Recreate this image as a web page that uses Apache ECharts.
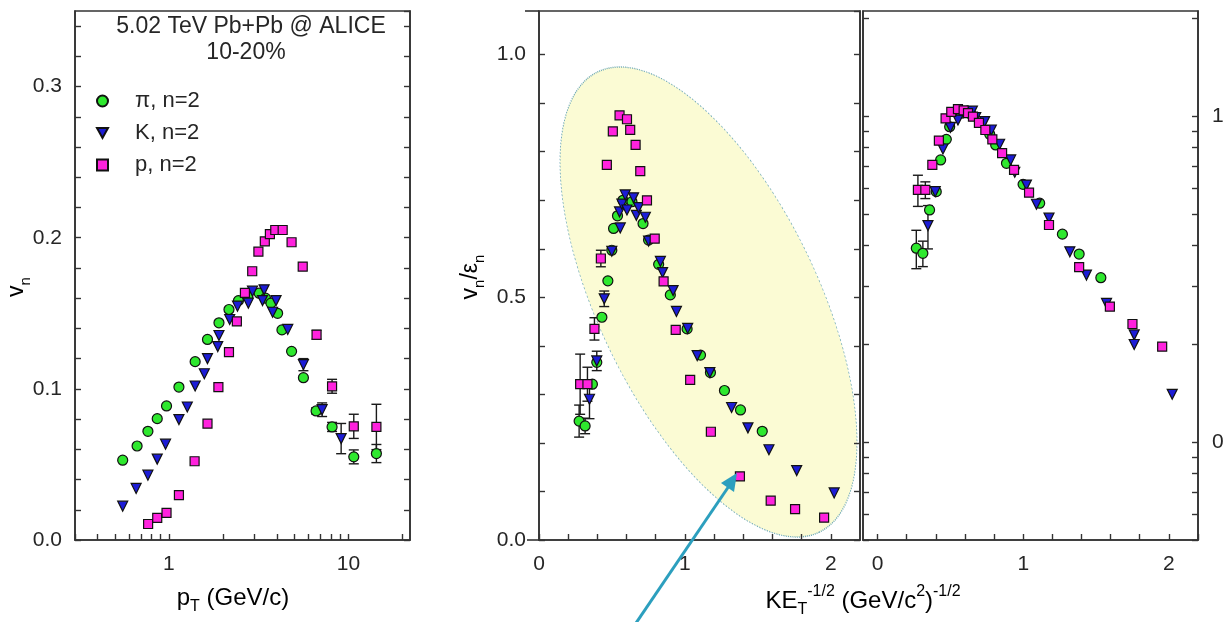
<!DOCTYPE html>
<html>
<head>
<meta charset="utf-8">
<script src="https://cdn.jsdelivr.net/npm/echarts@6/dist/echarts.min.js"></script>
<style>
html,body{margin:0;padding:0;background:#fff;}
#c{width:1224px;height:622px;}
</style>
</head>
<body>
<div id="c"></div>
<script>
// ---------- DATA ----------
// Left panel: v2 vs pT
const pT_pi  = [0.553,0.665,0.764,0.861,0.97,1.137,1.40,1.64,1.90,2.16,2.44,2.75,3.18,3.45,3.70,4.03,4.26,4.82,5.61,6.6,8.1,10.7,14.3];
const v2_pi  = [0.0528,0.0622,0.0719,0.0803,0.0887,0.1012,0.118,0.1327,0.1437,0.1525,0.1584,0.161,0.1633,0.160,0.1567,0.150,0.139,0.1248,0.1074,0.0854,0.0748,0.055,0.0572];
const e2_pi  = [0,0,0,0,0,0,0,0,0,0,0,0,0,0,0,0,0,0,0,0.002,0.003,0.0046,0.006];

const pT_K   = [0.553,0.657,0.764,0.861,0.958,1.137,1.266,1.40,1.575,1.64,1.87,1.90,2.18,2.41,2.77,2.92,3.32,3.39,3.78,3.95,4.59,5.61,7.13,9.1];
const v2_K   = [0.0224,0.0341,0.0429,0.0535,0.0634,0.0797,0.088,0.1019,0.110,0.120,0.128,0.1353,0.1459,0.1547,0.1567,0.1646,0.1584,0.1655,0.1507,0.1584,0.1393,0.116,0.0862,0.0671];
const e2_K   = [0,0,0,0,0,0,0,0,0,0,0,0,0,0,0,0,0,0,0,0,0,0.004,0.0045,0.01];

const pT_p   = [0.766,0.861,0.97,1.137,1.39,1.64,1.886,2.16,2.39,2.65,2.91,3.15,3.42,3.65,3.91,4.30,4.82,5.56,6.64,8.1,10.7,14.3];
const v2_p   = [0.0106,0.0147,0.018,0.0297,0.0521,0.077,0.1012,0.1243,0.1446,0.1635,0.1778,0.1908,0.1976,0.2024,0.2051,0.2051,0.197,0.1809,0.1358,0.1017,0.0752,0.0748];
const e2_p   = [0,0,0,0,0,0,0,0,0,0,0,0,0,0,0,0,0,0,0.003,0.0046,0.008,0.015];

// Middle panel: v2/eps2 vs KE_T^-1/2
const ke_pi  = [0.275,0.316,0.366,0.396,0.431,0.472,0.499,0.511,0.538,0.575,0.637,0.713,0.751,0.820,0.900,1.015,1.107,1.175,1.271,1.381,1.530];
const r_pi   = [0.245,0.235,0.321,0.366,0.459,0.534,0.597,0.642,0.668,0.700,0.697,0.652,0.618,0.568,0.505,0.435,0.381,0.345,0.308,0.268,0.224];
const er_pi  = [0.033,0.016,0,0,0,0,0,0,0,0,0,0,0,0,0,0,0,0,0,0,0];

const ke_K   = [0.346,0.396,0.447,0.499,0.552,0.557,0.568,0.591,0.603,0.648,0.667,0.682,0.729,0.751,0.832,0.847,0.919,0.942,1.019,1.084,1.171,1.320,1.432,1.576,1.766,2.023];
const r_K    = [0.290,0.369,0.497,0.595,0.676,0.643,0.692,0.711,0.680,0.705,0.669,0.685,0.665,0.616,0.574,0.551,0.514,0.471,0.436,0.380,0.345,0.273,0.231,0.186,0.143,0.097];
const er_K   = [0.04,0.02,0.016,0,0,0,0,0,0,0,0,0,0,0,0,0,0,0,0,0,0,0,0,0,0,0];

const ke_p   = [0.282,0.332,0.380,0.424,0.465,0.506,0.552,0.603,0.625,0.662,0.694,0.740,0.793,0.854,0.937,1.036,1.178,1.377,1.588,1.755,1.954];
const r_p    = [0.321,0.321,0.435,0.580,0.773,0.842,0.875,0.867,0.845,0.814,0.760,0.700,0.621,0.533,0.433,0.330,0.223,0.131,0.081,0.0635,0.046];
const er_p   = [0.062,0.035,0.023,0.017,0,0,0,0,0,0,0,0,0,0,0,0,0,0,0,0,0];

// Right panel (log y)
const kr_pi  = [0.266,0.311,0.357,0.403,0.433,0.472,0.495,0.575,0.644,0.770,0.811,0.885,0.999,1.113,1.269,1.384,1.533];
const s_pi   = [0.393,0.379,0.515,0.586,0.733,0.848,0.927,1.02,1.01,0.879,0.815,0.716,0.617,0.540,0.434,0.377,0.319];
const es_pi  = [0.053,0.034,0,0,0,0,0,0,0,0,0,0,0,0,0,0,0];

const kr_K   = [0.346,0.396,0.449,0.500,0.552,0.609,0.651,0.674,0.735,0.781,0.838,0.914,0.942,1.022,1.091,1.177,1.320,1.434,1.572,1.762,1.762,2.023];
const s_K    = [0.461,0.586,0.792,0.923,0.972,1.03,1.035,0.988,0.961,0.906,0.819,0.733,0.672,0.614,0.536,0.486,0.383,0.325,0.266,0.213,0.199,0.140];
const es_K   = [0.07,0,0,0,0,0,0,0,0,0,0,0,0,0,0,0,0,0,0,0,0,0];

const kr_p   = [0.277,0.328,0.376,0.421,0.467,0.506,0.552,0.591,0.621,0.655,0.696,0.740,0.788,0.855,0.937,1.040,1.177,1.384,1.595,1.750,1.954];
const s_p    = [0.593,0.593,0.708,0.840,0.984,1.03,1.05,1.04,1.02,0.995,0.953,0.906,0.848,0.769,0.683,0.582,0.463,0.344,0.260,0.230,0.196];
const es_p   = [0.065,0.035,0,0,0,0,0,0,0,0,0,0,0,0,0,0,0,0,0,0,0];

// Tick values / labels
const ptTicks   = [0.3,0.4,0.5,0.6,0.7,0.8,0.9,1,2,3,4,5,6,7,8,9,10,20];
const ptLabels  = [1,10];
const keTicksR  = [0,0.2,0.4,0.6,0.8,1,1.2,1.4,1.6,1.8,2,2.2];
const keLabelsR = [0,1,2];
const logTicks  = [0.05,0.06,0.07,0.08,0.09,0.1,0.2,0.3,0.4,0.5,0.6,0.7,0.8,0.9,1,2];
const logLabels = [0.1,1];

const names = ['\u03c0, n=2','K, n=2','p, n=2'];
const colors = ['#2ee82e','#1c1cd6','#ff22dd'];
const symbols = ['circle','triangle','rect'];
const symSizes = [10,10,9];
const symRot = [0,180,0];
const legendIcons = ['circle','path://M0,0 L10,0 L5,9 Z','rect'];

// ---------- CHART ----------
const FONT = 'Liberation Sans, Arial, sans-serif';
const TXT = '#262626';
const chart = echarts.init(document.getElementById('c'), null, {renderer:'canvas'});

function zip(xs, ys){ return xs.map((x,i)=>[x, ys[i]]); }
function zipE(xs, ys, es){ const r=[]; xs.forEach((x,i)=>{ if(es[i]>0) r.push([x, ys[i], es[i]]); }); return r; }

function errSeries(data, xi, yi){
  return {
    type:'custom', xAxisIndex:xi, yAxisIndex:yi, z:3, clip:false, silent:true,
    data:data, encode:{x:0,y:1},
    renderItem:function(params, api){
      const x=api.value(0), y=api.value(1), e=api.value(2);
      const t=api.coord([x,y+e]), b=api.coord([x,y-e]);
      const w=5;
      const st={stroke:'#1a1a1a', lineWidth:1.4};
      return {type:'group', children:[
        {type:'line', shape:{x1:t[0],y1:t[1],x2:b[0],y2:b[1]}, style:st},
        {type:'line', shape:{x1:t[0]-w,y1:t[1],x2:t[0]+w,y2:t[1]}, style:st},
        {type:'line', shape:{x1:b[0]-w,y1:b[1],x2:b[0]+w,y2:b[1]}, style:st}
      ]};
    }
  };
}
function scat(k, data, xi, yi){
  return {
    type:'scatter', name:names[k], xAxisIndex:xi, yAxisIndex:yi, z:4+k,
    data:data, symbol:symbols[k], symbolSize:symSizes[k], symbolRotate:symRot[k],
    itemStyle:{color:colors[k], borderColor:'#111', borderWidth:1.2, opacity:1},
    emphasis:{disabled:true}, animation:false
  };
}

const axisLineSt = {show:true, onZero:false, lineStyle:{color:'#333', width:1.6}};
const tickSt = {show:true, inside:true, length:6, lineStyle:{color:'#333', width:1.4}};
const lblSt = {color:TXT, fontSize:21, fontFamily:FONT};

function isMult(v, m){ const q=v/m; return Math.abs(q-Math.round(q))<1e-6; }

const series = [];
const sets = [
  [[pT_pi,v2_pi,e2_pi],[pT_K,v2_K,e2_K],[pT_p,v2_p,e2_p], 0, 0],
  [[ke_pi,r_pi,er_pi],[ke_K,r_K,er_K],[ke_p,r_p,er_p], 1, 2],
  [[kr_pi,s_pi,es_pi],[kr_K,s_K,es_K],[kr_p,s_p,es_p], 2, 4]
];
sets.forEach(s=>{
  const xi=s[3], yi=s[4];
  for(let k=0;k<3;k++){ const e=zipE(s[k][0],s[k][1],s[k][2]); if(e.length) series.push(errSeries(e,xi,yi)); }
  for(let k=0;k<3;k++) series.push(scat(k, zip(s[k][0],s[k][1]), xi, yi));
});

// ellipse geometry (annotation)
const ell = {cx:708.5, cy:302, a:255.4, b:109.7, ang:-64.3*Math.PI/180};

const richBig = {
  m:{fontSize:24, fontFamily:FONT, color:TXT, lineHeight:34},
  s:{fontSize:16, fontFamily:FONT, color:TXT, verticalAlign:'bottom', lineHeight:34},
  p:{fontSize:16, fontFamily:FONT, color:TXT, verticalAlign:'top', lineHeight:34}
};
const richMid = {
  m:{fontSize:23, fontFamily:FONT, color:TXT, lineHeight:32},
  s:{fontSize:15, fontFamily:FONT, color:TXT, verticalAlign:'bottom', lineHeight:32}
};

const gridBase = {top:11, height:529, show:true, borderColor:'#333', borderWidth:1.6, backgroundColor:'transparent', containLabel:false, outerBoundsMode:'none'};

const option = {
  backgroundColor:'#fff',
  animation:false,
  grid:[
    Object.assign({left:75, width:335}, gridBase),
    Object.assign({left:539, width:321}, gridBase),
    Object.assign({left:863, width:335}, gridBase)
  ],
  xAxis:[
    {gridIndex:0, type:'log', logBase:10, min:0.3, max:22, axisLine:axisLineSt,
     axisTick:Object.assign({}, tickSt, {customValues:ptTicks}),
     axisLabel:Object.assign({}, lblSt, {margin:14, customValues:ptLabels, formatter:v=>String(Math.round(v))}),
     splitLine:{show:false}},
    {gridIndex:1, type:'value', min:0, max:2.2, interval:0.2, axisLine:axisLineSt, axisTick:tickSt,
     axisLabel:Object.assign({}, lblSt, {margin:14, interval:0, showMaxLabel:false, formatter:v=>isMult(v,1)?String(Math.round(v)):''}),
     splitLine:{show:false}},
    {gridIndex:2, type:'value', min:-0.1, max:2.2, axisLine:axisLineSt,
     axisTick:Object.assign({}, tickSt, {customValues:keTicksR}),
     axisLabel:Object.assign({}, lblSt, {margin:14, customValues:keLabelsR, formatter:v=>String(Math.round(v))}),
     splitLine:{show:false}}
  ],
  yAxis:[
    {gridIndex:0, type:'value', position:'left', min:0, max:0.35, interval:0.02, axisLine:axisLineSt, axisTick:tickSt,
     axisLabel:Object.assign({}, lblSt, {margin:13, interval:0, showMaxLabel:false, formatter:v=>isMult(v,0.1)?v.toFixed(1):''}),
     splitLine:{show:false}},
    {gridIndex:0, type:'value', position:'right', min:0, max:0.35, interval:0.02, axisLine:axisLineSt, axisTick:tickSt,
     axisLabel:{show:false}, splitLine:{show:false}},
    {gridIndex:1, type:'value', position:'left', min:0, max:1.09, interval:0.1, axisLine:axisLineSt, axisTick:tickSt,
     axisLabel:Object.assign({}, lblSt, {margin:13, interval:0, showMaxLabel:false, formatter:v=>isMult(v,0.5)?v.toFixed(1):''}),
     splitLine:{show:false}},
    {gridIndex:1, type:'value', position:'right', min:0, max:1.09, interval:0.1, axisLine:axisLineSt, axisTick:tickSt,
     axisLabel:{show:false}, splitLine:{show:false}},
    {gridIndex:2, type:'log', logBase:10, position:'right', min:0.05, max:2.1, axisLine:axisLineSt,
     axisTick:Object.assign({}, tickSt, {customValues:logTicks}),
     axisLabel:Object.assign({}, lblSt, {margin:14, customValues:logLabels, formatter:v=>(Math.abs(v-1)<1e-6?'1':'0.1')}),
     splitLine:{show:false}},
    {gridIndex:2, type:'log', logBase:10, position:'left', min:0.05, max:2.1, axisLine:axisLineSt,
     axisTick:Object.assign({}, tickSt, {customValues:logTicks}),
     axisLabel:{show:false}, splitLine:{show:false}}
  ],
  legend:{
    data:names.map((n,i)=>({name:n, icon:legendIcons[i]})), orient:'vertical', left:91, top:85, itemGap:10, itemWidth:11, itemHeight:11,
    selectedMode:false,
    textStyle:{color:TXT, fontSize:22, fontFamily:FONT, lineHeight:16, padding:[0,0,0,22]}
  },
  graphic:[
    {type:'circle', z:-10, zlevel:0, silent:true,
     x:ell.cx, y:ell.cy, scaleX:ell.a/100, scaleY:ell.b/100, rotation:ell.ang,
     shape:{cx:0, cy:0, r:100},
     style:{fill:'#fbfbd4', stroke:'#6fa9b6', lineWidth:1, lineDash:[1.5,1.5], strokeNoScale:true}},
    {type:'line', z:100, silent:true, shape:{x1:527, y1:540, x2:539, y2:540}, style:{stroke:'#333', lineWidth:1.6}},
    {type:'line', z:100, silent:true, shape:{x1:525, y1:11, x2:539, y2:11}, style:{stroke:'#333', lineWidth:1.6}},
    {type:'line', z:100, silent:true, shape:{x1:634, y1:626, x2:729, y2:486},
     style:{stroke:'#2c9fbe', lineWidth:3}},
    {type:'polygon', z:100, silent:true, shape:{points:[[737,473],[734,492],[721,483]]},
     style:{fill:'#2c9fbe'}},
    {type:'text', z:100, x:251, y:27, silent:true,
     style:{text:'5.02 TeV Pb+Pb @ ALICE', fontSize:23, fontFamily:FONT, fill:TXT, align:'center', verticalAlign:'middle'}},
    {type:'text', z:100, x:246, y:53, silent:true,
     style:{text:'10-20%', fontSize:23, fontFamily:FONT, fill:TXT, align:'center', verticalAlign:'middle'}},
    {type:'text', z:100, x:233, y:598, silent:true,
     style:{text:'{m|p}{s|T}{m| (GeV/c)}', rich:richBig, align:'center', verticalAlign:'middle'}},
    {type:'text', z:100, x:17, y:287, rotation:Math.PI/2, silent:true,
     style:{text:'{m|v}{s|n}', rich:richMid, align:'center', verticalAlign:'middle'}},
    {type:'text', z:100, x:471, y:277, rotation:Math.PI/2, silent:true,
     style:{text:'{m|v}{s|n}{m|/\u03b5}{s|n}', rich:richMid, align:'center', verticalAlign:'middle'}},
    {type:'text', z:100, x:863, y:601, silent:true,
     style:{text:'{m|KE}{s|T}{p|-1/2}{m| (GeV/c}{p|2}{m|)}{p|-1/2}', rich:richBig, align:'center', verticalAlign:'middle'}}
  ],
  series:series
};
chart.setOption(option);
</script>
</body>
</html>
